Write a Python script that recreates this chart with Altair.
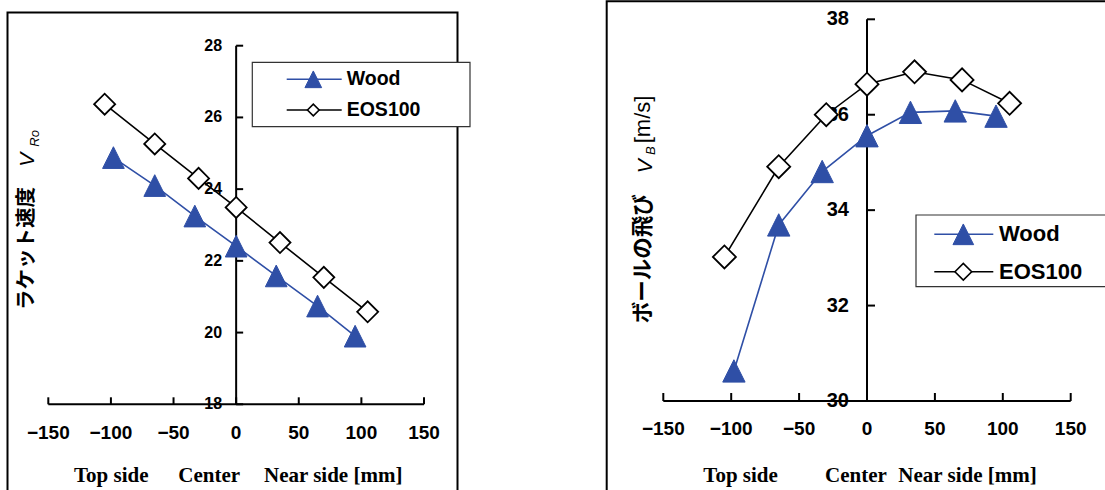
import altair as alt
import pandas as pd

# ---------------- data ----------------
series_names = ["Wood", "EOS100"]
pos_wood = [-98, -65, -33, 0, 32, 65, 95]
pos_eos = [-105, -65, -30, 0, 35, 70, 105]
racket_wood = [24.88, 24.10, 23.25, 22.41, 21.58, 20.74, 19.90]
racket_eos = [26.37, 25.26, 24.30, 23.49, 22.51, 21.54, 20.58]
ball_wood = [30.63, 33.69, 34.81, 35.56, 36.05, 36.08, 35.97]
ball_eos = [33.02, 34.91, 36.00, 36.64, 36.90, 36.73, 36.24]
x_ticks = [-150, -100, -50, 0, 50, 100, 150]
racket_ticks = [18, 20, 22, 24, 26, 28]
ball_ticks = [30, 32, 34, 36, 38]
x_title_parts = ["Top side", "Center", "Near side [mm]"]
left_ytitle = ["ラケット速度", "V", "Ro"]
right_ytitle = ["ボールの飛び", "V", "B", "[m/s]"]

BLUE = "#2f4fa6"
TRI = "M0,-1L1,1L-1,1Z"
SANS = "Liberation Sans"
SERIF = "Liberation Serif"
CJK = "Noto Sans CJK JP"
W, H = 1105, 490


def one(**cols):
    return pd.DataFrame({k: [v] for k, v in cols.items()})


LEFT = dict(
    wood=racket_wood, eos=racket_eos, yticks=racket_ticks, ydom=[18, 28],
    xr=[48.3, 424.0], yr=[404.3, 45.7],
    xlab=19, ylab=16, xpad=19.5, ypad=14, tick=7,
    frame=[7.5, 457.5, 12.5, 530],
    tri=470, dia=441, ltri=279, ldia=137,
    legbox=[252.3, 470, 62.3, 126.7], legline=[286.7, 341.7], legmark=313.3,
    legtext=346.7, legy=[79.3, 110.0], legfont=19.5,
    xtitle_x=[74, 178.3, 264], xtitle_y=481.7,
    ytitle=[
        (left_ytitle[0], 26.7, 310.0, CJK, 20.5, "bold", "normal"),
        (left_ytitle[1], 28.3, 166.7, SANS, 21, "normal", "italic"),
        (left_ytitle[2], 34.7, 146.7, SANS, 13, "normal", "italic"),
    ],
)

RIGHT = dict(
    wood=ball_wood, eos=ball_eos, yticks=ball_ticks, ydom=[30, 38],
    xr=[663.3, 1070.7], yr=[401.0, 19.3],
    xlab=19, ylab=20, xpad=19.3, ypad=18, tick=8,
    frame=[606.7, 1130, 1.3, 530],
    tri=500, dia=529, ltri=428, ldia=279,
    legbox=[916.0, 1130, 215.0, 286.7], legline=[934.3, 993.3], legmark=963.3,
    legtext=999.0, legy=[234.3, 271.7], legfont=22,
    xtitle_x=[703.3, 825.0, 898.3], xtitle_y=481.7,
    ytitle=[
        (right_ytitle[0], 644.0, 323.3, CJK, 21.5, "bold", "normal"),
        (right_ytitle[1], 645.5, 173.3, SANS, 21, "normal", "italic"),
        (right_ytitle[2], 650.5, 155.0, SANS, 13, "normal", "italic"),
        (right_ytitle[3], 643.0, 143.3, SANS, 22, "normal", "normal"),
    ],
)


def panel(P):
    xs = alt.Scale(domain=[-150, 150], range=P["xr"], nice=False, zero=False)
    ys = alt.Scale(domain=P["ydom"], range=P["yr"], nice=False, zero=False)
    ymin, ymax = P["ydom"]
    wood_df = pd.DataFrame({"x": pos_wood, "v": P["wood"]})
    eos_df = pd.DataFrame({"x": pos_eos, "v": P["eos"]})

    def X(f="x:Q"):
        return alt.X(f, scale=xs, axis=None)

    def Y(f="v:Q"):
        return alt.Y(f, scale=ys, axis=None)

    def XD(v):
        return alt.XDatum(v, type="quantitative", scale=xs, axis=None)

    def YD(v):
        return alt.YDatum(v, type="quantitative", scale=ys, axis=None)

    layers = []
    fx0, fx1, fy0, fy1 = P["frame"]
    layers.append(
        alt.Chart(one(k=0)).mark_rect(fill="white", fillOpacity=0, stroke="black", strokeWidth=2)
        .encode(x=alt.value(fx0), x2=alt.value(fx1), y=alt.value(fy0), y2=alt.value(fy1))
    )
    # ---- axes drawn through the scales ----
    layers.append(
        alt.Chart(one(a=x_ticks[0], b=x_ticks[-1], c=ymin))
        .mark_rule(color="black", strokeWidth=2)
        .encode(x=X("a:Q"), x2="b:Q", y=Y("c:Q"))
    )
    layers.append(
        alt.Chart(one(a=0, b=ymin, c=ymax))
        .mark_rule(color="black", strokeWidth=2)
        .encode(x=X("a:Q"), y=Y("b:Q"), y2="c:Q")
    )
    layers.append(
        alt.Chart(pd.DataFrame({"v": P["yticks"]}))
        .mark_tick(orient="horizontal", size=P["tick"], thickness=2, color="black",
                   xOffset=P["tick"] / 2, opacity=1)
        .encode(x=XD(0), y=Y("v:Q"))
    )
    layers.append(
        alt.Chart(pd.DataFrame({"x": x_ticks}))
        .mark_tick(orient="vertical", size=P["tick"], thickness=2, color="black",
                   yOffset=-P["tick"] / 2, opacity=1)
        .encode(x=X("x:Q"), y=YD(ymin))
    )
    layers.append(
        alt.Chart(pd.DataFrame({"v": P["yticks"]}))
        .mark_text(align="right", baseline="middle", dx=-P["ypad"], font=SANS,
                   fontSize=P["ylab"], fontWeight="bold", color="black")
        .encode(x=XD(0), y=Y("v:Q"), text=alt.Text("v:Q", format="d"))
    )
    layers.append(
        alt.Chart(pd.DataFrame({"x": x_ticks}))
        .mark_text(align="center", baseline="top", dy=P["xpad"], font=SANS,
                   fontSize=P["xlab"], fontWeight="bold", color="black")
        .encode(x=X("x:Q"), y=YD(ymin), text=alt.Text("x:Q", format="d"))
    )
    # ---- data ----
    layers.append(alt.Chart(wood_df).mark_line(color=BLUE, strokeWidth=1.6).encode(x=X(), y=Y()))
    layers.append(alt.Chart(eos_df).mark_line(color="black", strokeWidth=1.6).encode(x=X(), y=Y()))
    layers.append(
        alt.Chart(wood_df).mark_point(shape=TRI, size=P["tri"], filled=True, fill=BLUE,
                                      stroke=BLUE, strokeWidth=1, opacity=1)
        .encode(x=X(), y=Y())
    )
    layers.append(
        alt.Chart(eos_df).mark_point(shape="diamond", size=P["dia"], filled=True, fill="white",
                                     stroke="black", strokeWidth=1.8, opacity=1)
        .encode(x=X(), y=Y())
    )
    # ---- legend ----
    bx0, bx1, by0, by1 = P["legbox"]
    layers.append(
        alt.Chart(one(k=0)).mark_rect(fill="white", stroke="#333333", strokeWidth=1.2)
        .encode(x=alt.value(bx0), x2=alt.value(bx1), y=alt.value(by0), y2=alt.value(by1))
    )
    l0, l1 = P["legline"]
    for name, yy, col in zip(series_names, P["legy"], [BLUE, "black"]):
        layers.append(
            alt.Chart(one(k=0)).mark_rule(color=col, strokeWidth=1.6)
            .encode(x=alt.value(l0), x2=alt.value(l1), y=alt.value(yy))
        )
        if name == "Wood":
            mk = alt.Chart(one(k=0)).mark_point(shape=TRI, size=P["ltri"], filled=True,
                                                fill=BLUE, stroke=BLUE, strokeWidth=1, opacity=1)
        else:
            mk = alt.Chart(one(k=0)).mark_point(shape="diamond", size=P["ldia"], filled=True,
                                                fill="white", stroke="black", strokeWidth=1.6,
                                                opacity=1)
        layers.append(mk.encode(x=alt.value(P["legmark"]), y=alt.value(yy)))
        layers.append(
            alt.Chart(one(t=name)).mark_text(align="left", baseline="middle", font=SANS,
                                             fontSize=P["legfont"], fontWeight="bold",
                                             color="black")
            .encode(x=alt.value(P["legtext"]), y=alt.value(yy), text="t:N")
        )
    # ---- x title pieces ----
    for part, xx in zip(x_title_parts, P["xtitle_x"]):
        layers.append(
            alt.Chart(one(t=part)).mark_text(align="left", baseline="alphabetic", font=SERIF,
                                             fontSize=21, fontWeight="bold", color="black")
            .encode(x=alt.value(xx), y=alt.value(P["xtitle_y"]), text="t:N")
        )
    # ---- y title pieces (rotated) ----
    for txt, xx, yy, font, size, weight, style in P["ytitle"]:
        layers.append(
            alt.Chart(one(t=txt)).mark_text(angle=270, align="left", baseline="middle", font=font,
                                            fontSize=size, fontWeight=weight, fontStyle=style,
                                            color="black")
            .encode(x=alt.value(xx), y=alt.value(yy), text="t:N")
        )
    return alt.layer(*layers)


chart = (
    alt.layer(panel(LEFT), panel(RIGHT))
    .resolve_scale(x="independent", y="independent")
    .properties(width=W, height=H, autosize=alt.AutoSizeParams(type="none"), padding=0,
                background="white")
    .configure_view(stroke="transparent")
)

chart.save("out.html", embed_options={"renderer": "svg", "actions": False})
